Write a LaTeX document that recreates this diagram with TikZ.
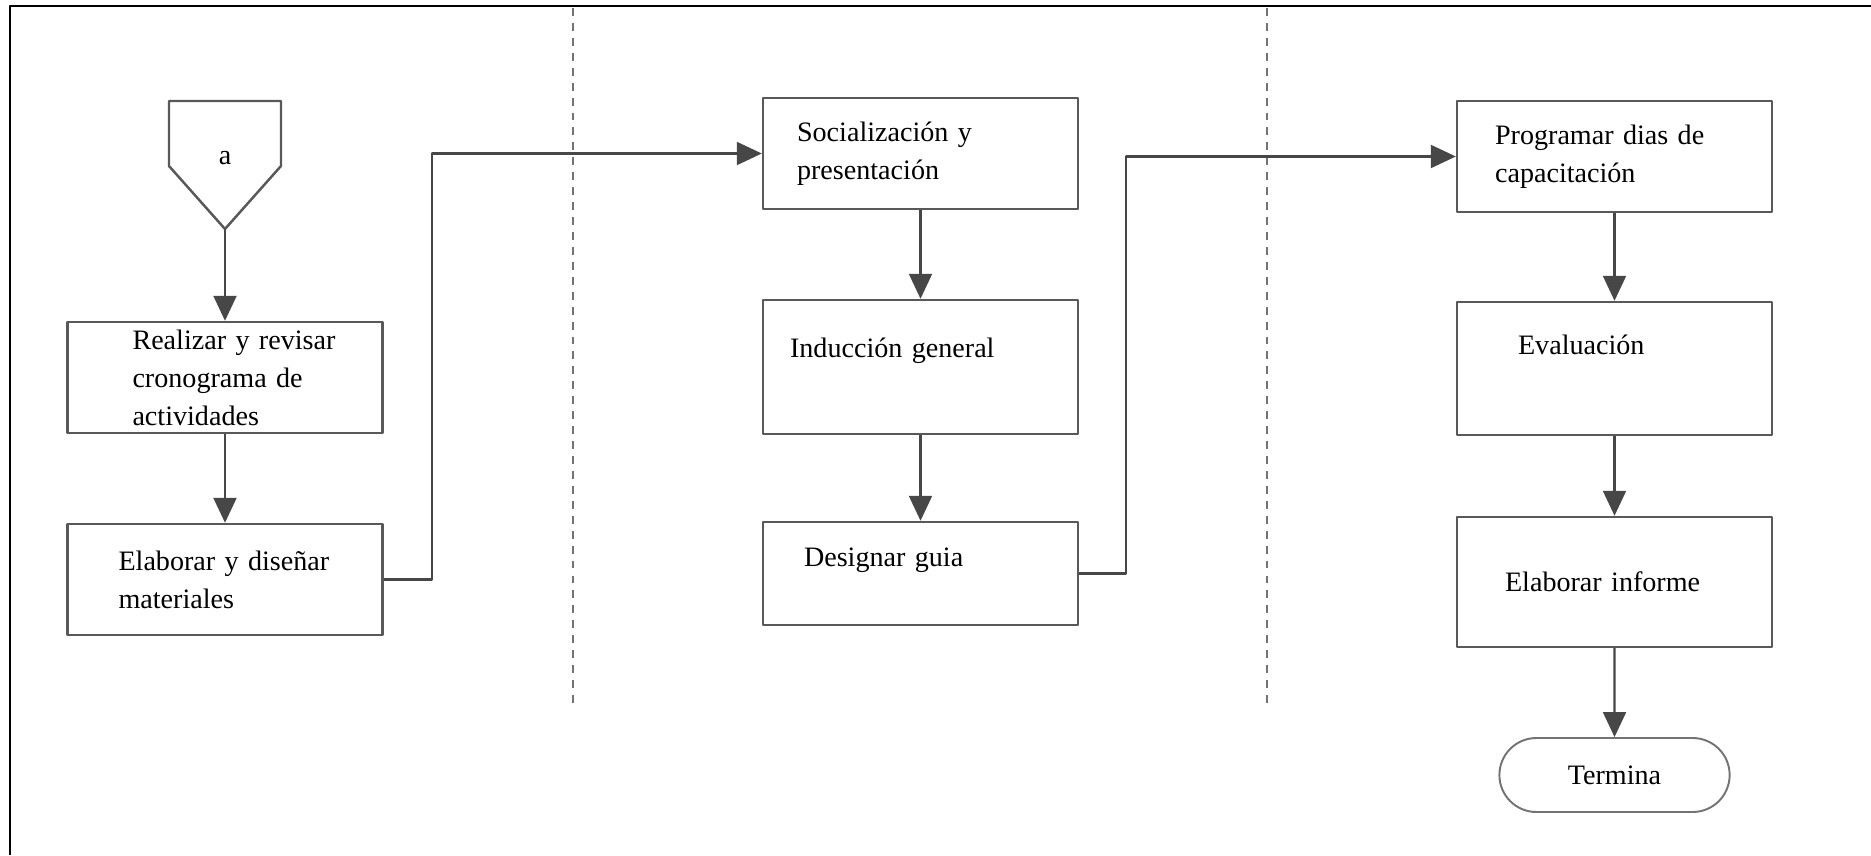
\documentclass[tikz,border=0pt]{standalone}
\usepackage{fontspec}
\setmainfont{Liberation Serif}
\usetikzlibrary{arrows.meta,shapes.misc}

\begin{document}
\begin{tikzpicture}[x=0.02cm, y=-0.02cm, line join=round, >={Triangle[length=0.5cm,width=0.46cm]},
  paso/.style={draw=black!65, line width=1.4pt, minimum width=6.3cm, text width=6.3cm, inner xsep=0pt, inner ysep=0pt, align=left, font=\fontsize{16pt}{21.6pt}\selectfont},
  sangria/.style={execute at begin node={\leftskip=#1}},
  flujo/.style={->, draw=black!72, line width=1.2pt},
  carril/.style={draw=black!55, line width=1pt, dash pattern=on 4.5pt off 4pt}]
\useasboundingbox (0,0) rectangle (1871,855);
\draw[line width=1.1pt] (10,855) -- (10,6) -- (1871,6);
\draw[carril] (573,8) -- (573,703);
\draw[carril] (1267,8) -- (1267,703);
% conector de entrada
\node[font=\fontsize{16pt}{20pt}\selectfont] (ini) at (225,158) {a};
\draw[draw=black!65, line width=1.4pt] (169,101) -- (281,101) -- (281,166) -- (225,229) -- (169,166) -- cycle;
\coordinate (punta) at (225,229);
% primera columna
\node[paso, minimum height=2.22cm, sangria=1.3cm] (act1) at (225,377.5) {Realizar y revisar\\cronograma de\\actividades};
\node[paso, minimum height=2.22cm, sangria=1.02cm] (act2) at (225,579.5) {Elaborar y diseñar\\materiales};
% segunda columna
\node[paso, minimum height=2.22cm, sangria=0.68cm] (act3) at (920.5,153.5) {Socialización y\\presentación};
\node[paso, minimum height=2.68cm, sangria=0.54cm, text depth=0.76cm] (act4) at (920.5,367) {Inducción general};
\node[paso, minimum height=2.06cm, sangria=0.82cm, text depth=0.66cm] (act5) at (920.5,573.5) {Designar guia};
% tercera columna
\node[paso, minimum height=2.22cm, sangria=0.76cm] (act6) at (1614.5,156.5) {Programar dias de\\capacitación};
\node[paso, minimum height=2.66cm, sangria=1.22cm, text depth=0.95cm] (act7) at (1614.5,368.5) {Evaluación};
\node[paso, minimum height=2.6cm, sangria=0.96cm] (act8) at (1614.5,582) {Elaborar informe};
\node[draw=black!55, line width=1.1pt, rounded rectangle, minimum width=4.84cm, minimum height=1.48cm, font=\fontsize{16pt}{20pt}\selectfont] (fin) at (1614.5,775) {Termina};
% flechas
\draw[flujo] (punta) -- (act1.north);
\draw[flujo] (act1) -- (act2);
\draw[flujo] (act2.east) -- ++(48.5,0) |- (act3.west);
\draw[flujo] (act3) -- (act4);
\draw[flujo] (act4) -- (act5);
\draw[flujo] (act5.east) -- ++(47,0) |- (act6.west);
\draw[flujo] (act6) -- (act7);
\draw[flujo] (act7) -- (act8);
\draw[flujo] (act8) -- (fin);
\end{tikzpicture}
\end{document}
